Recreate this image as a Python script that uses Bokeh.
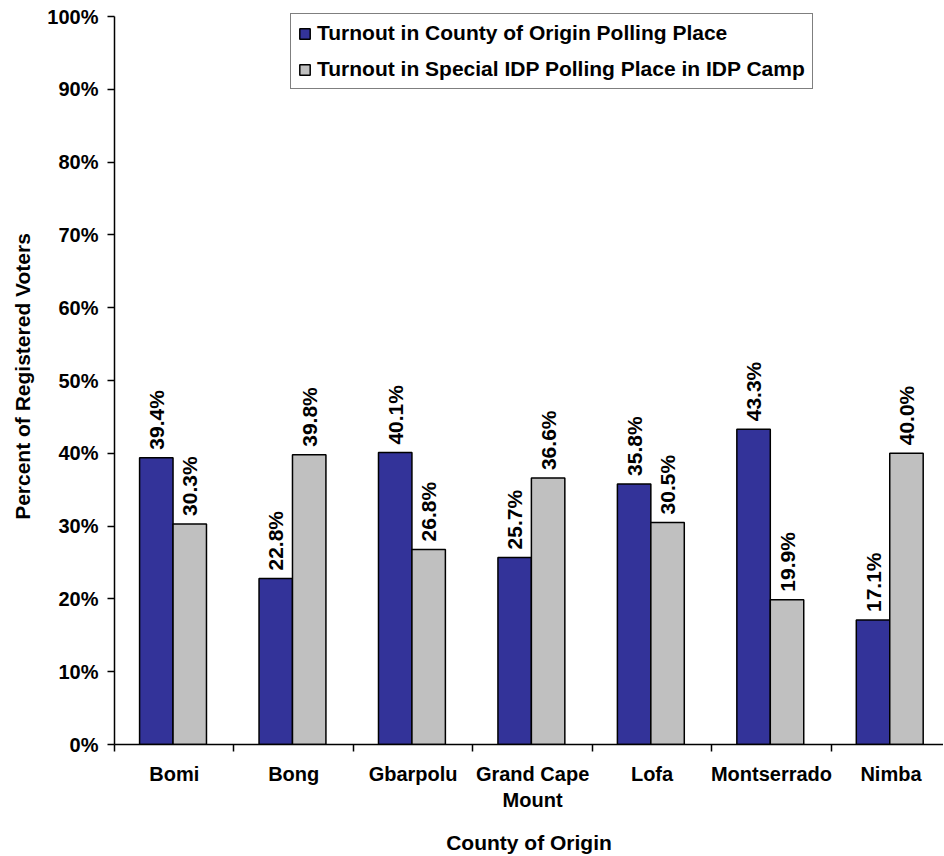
import numpy as np
from bokeh.plotting import figure
from bokeh.models import ColumnDataSource, FixedTicker, Legend, LegendItem, Range1d
from bokeh.core.properties import value
from bokeh.embed import file_html
from bokeh.resources import INLINE

counties = ["Bomi", "Bong", "Gbarpolu", "Grand Cape\nMount", "Lofa", "Montserrado", "Nimba"]
origin = [39.4, 22.8, 40.1, 25.7, 35.8, 43.3, 17.1]
idp_camp = [30.3, 39.8, 26.8, 36.6, 30.5, 19.9, 40.0]
series_names = ["Turnout in County of Origin Polling Place",
                "Turnout in Special IDP Polling Place in IDP Camp"]
y_ticks = [0, 10, 20, 30, 40, 50, 60, 70, 80, 90, 100]

FONT = "Liberation Sans"
idx = np.arange(len(counties))

src = ColumnDataSource(dict(
    x1=idx - 0.15, x2=idx + 0.13,
    origin=origin, idp=idp_camp,
    l1=[f"{v:.1f}%" for v in origin],
    l2=[f"{v:.1f}%" for v in idp_camp],
))

p = figure(width=943, height=856, output_backend="svg", toolbar_location=None,
           x_range=Range1d(-0.5, 6.44), y_range=Range1d(0, 101.1),
           min_border_left=114, min_border_right=0, min_border_top=8, min_border_bottom=111)
p.outline_line_color = None
p.xgrid.grid_line_color = None
p.ygrid.grid_line_color = None

r1 = p.vbar(x="x1", top="origin", width=0.28, source=src, fill_color="#333399",
            line_color="black", line_width=1.5)
r2 = p.vbar(x="x2", top="idp", width=0.28, source=src, fill_color="#C0C0C0",
            line_color="black", line_width=1.5)

for xcol, ycol, lcol in (("x1", "origin", "l1"), ("x2", "idp", "l2")):
    p.text(x=xcol, y=ycol, text=lcol, source=src, angle=np.pi / 2,
           text_align="left", text_baseline="middle", y_offset=-8,
           text_font=value(FONT), text_font_style="bold", text_font_size="21px",
           text_color="black")

# y axis
yax = p.yaxis[0]
yax.ticker = FixedTicker(ticks=y_ticks)
yax.bounds = (0, 100)
yax.major_label_overrides = {t: f"{t}%" for t in y_ticks}
yax.minor_tick_line_color = None
yax.major_tick_in = 0
yax.major_tick_out = 7
yax.major_tick_line_width = 1.5
yax.axis_line_width = 1.5
yax.axis_line_color = "black"
yax.major_tick_line_color = "black"
yax.major_label_standoff = 9
yax.major_label_text_font = FONT
yax.major_label_text_font_style = "bold"
yax.major_label_text_font_size = "20px"
yax.major_label_text_color = "black"
yax.axis_label = "Percent of Registered Voters"
yax.axis_label_text_font = FONT
yax.axis_label_text_font_style = "bold"
yax.axis_label_text_font_size = "21px"
yax.axis_label_text_color = "black"
yax.axis_label_standoff = 10

# x axis
xax = p.xaxis[0]
xax.ticker = FixedTicker(ticks=list(idx), minor_ticks=list(np.arange(len(counties) + 1) - 0.5))
xax.major_label_overrides = {int(i): c for i, c in zip(idx, counties)}
xax.major_tick_line_color = None
xax.major_tick_in = 0
xax.major_tick_out = 0
xax.minor_tick_in = 0
xax.minor_tick_out = 7
xax.minor_tick_line_width = 1.5
xax.minor_tick_line_color = "black"
xax.axis_line_width = 1.5
xax.axis_line_color = "black"
xax.major_label_standoff = 11
xax.major_label_text_font = FONT
xax.major_label_text_font_style = "bold"
xax.major_label_text_font_size = "20px"
xax.major_label_text_color = "black"
xax.axis_label = "County of Origin"
xax.axis_label_text_font = FONT
xax.axis_label_text_font_style = "bold"
xax.axis_label_text_font_size = "21px"
xax.axis_label_text_color = "black"
xax.axis_label_standoff = 17

legend = Legend(items=[LegendItem(label=series_names[0], renderers=[r1]),
                       LegendItem(label=series_names[1], renderers=[r2])],
                location=(176, 655))
legend.glyph_width = 13
legend.glyph_height = 13
legend.label_standoff = 6
legend.spacing = 12
legend.padding = 7
legend.margin = 0
legend.label_text_font = FONT
legend.label_text_font_style = "bold"
legend.label_text_font_size = "21px"
legend.label_text_color = "black"
legend.border_line_color = "black"
legend.border_line_width = 1.5
legend.background_fill_color = "white"
legend.background_fill_alpha = 1
p.add_layout(legend, "center")

open("out.html", "w").write(file_html(p, INLINE))
